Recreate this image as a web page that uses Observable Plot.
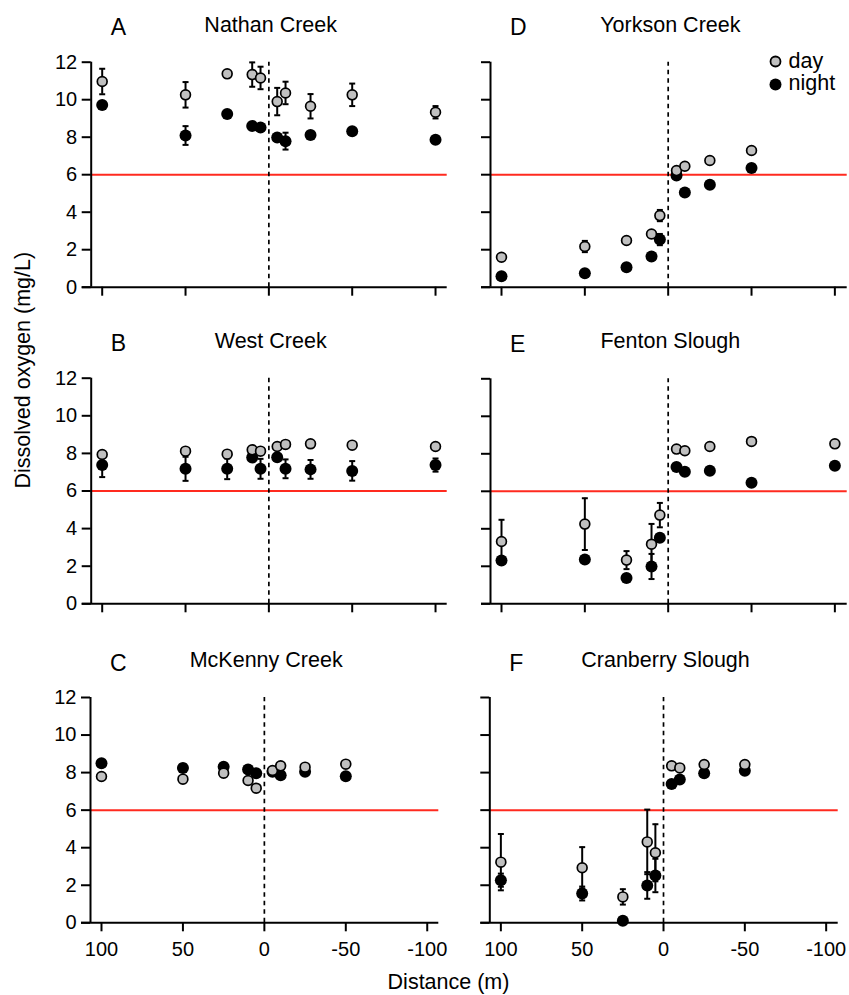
<!DOCTYPE html>
<html>
<head>
<meta charset="utf-8">
<script src="https://cdn.jsdelivr.net/npm/d3@7"></script>
<script src="https://cdn.jsdelivr.net/npm/@observablehq/plot@0.6"></script>
<style>
  html, body { margin: 0; padding: 0; background: #fff; }
  #wrap { position: relative; width: 849px; height: 995px; overflow: hidden; }
  .panel { position: absolute; }
  .panel svg { overflow: visible; }
</style>
</head>
<body>
<div id="wrap"></div>
<script>
// ---------- data ----------
const distances = [100, 50, 25, 10, 5, -5, -10, -25, -50, -100];
const xTicks = [100, 50, 0, -50, -100];
const yTicks = [0, 2, 4, 6, 8, 10, 12];
const seriesNames = ["day", "night"];
const threshold = 6;
const yLabel = "Dissolved oxygen (mg/L)";
const xLabel = "Distance (m)";

// A Nathan Creek
const nathanDay     = [10.97, 10.26, 11.38, 11.34, 11.16, 9.90, 10.36, 9.65, 10.26, 9.33];
const nathanDaySE   = [0.68, 0.68, 0.12, 0.65, 0.60, 0.73, 0.60, 0.65, 0.60, 0.33];
const nathanNight   = [9.72, 8.09, 9.24, 8.60, 8.52, 7.98, 7.79, 8.12, 8.32, 7.86];
const nathanNightSE = [0.12, 0.50, 0.12, 0.12, 0.12, 0.15, 0.45, 0.12, 0.12, 0.12];
// B West Creek
const westDay     = [7.94, 8.12, 7.96, 8.19, 8.12, 8.37, 8.48, 8.51, 8.44, 8.37];
const westDaySE   = [0.12, 0.12, 0.12, 0.12, 0.12, 0.12, 0.12, 0.12, 0.12, 0.12];
const westNight   = [7.38, 7.18, 7.18, 7.78, 7.18, 7.80, 7.18, 7.15, 7.07, 7.38];
const westNightSE = [0.64, 0.64, 0.55, 0.12, 0.53, 0.12, 0.50, 0.50, 0.52, 0.35];
// C McKenny Creek
const mckennyDay     = [7.79, 7.65, 7.97, 7.58, 7.17, 8.11, 8.36, 8.29, 8.45, null];
const mckennyDaySE   = [0.1, 0.1, 0.1, 0.1, 0.1, 0.1, 0.1, 0.1, 0.1, null];
const mckennyNight   = [8.50, 8.25, 8.31, 8.17, 7.97, 8.05, 7.86, 8.04, 7.81, null];
const mckennyNightSE = [0.1, 0.1, 0.1, 0.1, 0.1, 0.1, 0.1, 0.1, 0.1, null];
// D Yorkson Creek
const yorksonDay     = [1.60, 2.17, 2.49, 2.84, 3.82, 6.22, 6.45, 6.76, 7.29, null];
const yorksonDaySE   = [0.12, 0.30, 0.12, 0.12, 0.30, 0.12, 0.12, 0.12, 0.12, null];
const yorksonNight   = [0.59, 0.75, 1.07, 1.64, 2.54, 5.96, 5.05, 5.46, 6.36, null];
const yorksonNightSE = [0.12, 0.12, 0.12, 0.12, 0.30, 0.12, 0.12, 0.12, 0.12, null];
// E Fenton Slough
const fentonDay     = [3.32, 4.25, 2.33, 3.18, 4.73, 8.25, 8.16, 8.39, 8.66, 8.53];
const fentonDaySE   = [1.16, 1.38, 0.48, 1.08, 0.65, 0.12, 0.12, 0.12, 0.12, 0.12];
const fentonNight   = [2.31, 2.36, 1.37, 1.99, 3.52, 7.29, 7.04, 7.09, 6.45, 7.36];
const fentonNightSE = [0.12, 0.12, 0.12, 0.67, 0.12, 0.12, 0.12, 0.12, 0.12, 0.12];
// F Cranberry Slough
const cranberryDay     = [3.23, 2.93, 1.38, 4.31, 3.73, 8.36, 8.25, 8.43, 8.43, null];
const cranberryDaySE   = [1.50, 1.10, 0.41, 1.72, 1.52, 0.12, 0.12, 0.12, 0.12, null];
const cranberryNight   = [2.27, 1.56, 0.11, 1.99, 2.52, 7.39, 7.63, 7.97, 8.10, null];
const cranberryNightSE = [0.35, 0.37, 0.10, 0.71, 0.89, 0.12, 0.12, 0.12, 0.12, null];

// ---------- layout ----------
const panels = [
  {letter: "A", name: "Nathan Creek", day: nathanDay, daySE: nathanDaySE, night: nathanNight, nightSE: nathanNightSE,
   left: 0, top: 0, w: 460, h: 310, xL: 90.7, xR: 446.7, xDom: [106.6, -107.0], yT: 61.7, yB: 286.7, yLab: true, xLab: false},
  {letter: "B", name: "West Creek", day: westDay, daySE: westDaySE, night: westNight, nightSE: westNightSE,
   left: 0, top: 310, w: 460, h: 320, xL: 90.7, xR: 446.7, xDom: [106.6, -107.0], yT: 67.7, yB: 293.3, yLab: true, xLab: false, yTitle: true},
  {letter: "C", name: "McKenny Creek", day: mckennyDay, daySE: mckennyDaySE, night: mckennyNight, nightSE: mckennyNightSE,
   left: 0, top: 630, w: 460, h: 365, xL: 90, xR: 438.3, xDom: [106.75, -107.1], yT: 67, yB: 292.3, yLab: true, xLab: true, xTitle: true},
  {letter: "D", name: "Yorkson Creek", day: yorksonDay, daySE: yorksonDaySE, night: yorksonNight, nightSE: yorksonNightSE,
   left: 460, top: 0, w: 389, h: 310, xL: 30, xR: 386.7, xDom: [106.6, -107.4], yT: 61.7, yB: 286.7, yLab: false, xLab: false, legend: true},
  {letter: "E", name: "Fenton Slough", day: fentonDay, daySE: fentonDaySE, night: fentonNight, nightSE: fentonNightSE,
   left: 460, top: 310, w: 389, h: 320, xL: 30, xR: 386.7, xDom: [106.6, -107.4], yT: 68.3, yB: 293.3, yLab: false, xLab: false},
  {letter: "F", name: "Cranberry Slough", day: cranberryDay, daySE: cranberryDaySE, night: cranberryNight, nightSE: cranberryNightSE,
   left: 460, top: 630, w: 389, h: 365, xL: 29.3, xR: 377.7, xDom: [106.8, -107.4], yT: 67, yB: 292.3, yLab: false, xLab: true}
];

const FONT = "'Liberation Sans', Arial, Helvetica, sans-serif";
const DAY_FILL = "#c0c0c0";
const RED = "#ff2a1f";

function makePanel(p) {
  const rows = distances.map((d, i) => ({
    d, day: p.day[i], dse: p.daySE[i], night: p.night[i], nse: p.nightSE[i]
  })).filter(r => r.day != null);
  const ppm = (p.xR - p.xL) / (p.xDom[0] - p.xDom[1]);
  const cap = 3 / ppm;
  const tickLen = 9 / ppm;

  const errMarks = (key, se) => [
    Plot.ruleX(rows, {x: "d", y1: r => r[key] - r[se], y2: r => r[key] + r[se], stroke: "#000", strokeWidth: 2}),
    Plot.link(rows, {x1: r => r.d - cap, x2: r => r.d + cap, y1: r => r[key] + r[se], y2: r => r[key] + r[se], stroke: "#000", strokeWidth: 2}),
    Plot.link(rows, {x1: r => r.d - cap, x2: r => r.d + cap, y1: r => r[key] - r[se], y2: r => r[key] - r[se], stroke: "#000", strokeWidth: 2})
  ];

  const marks = [
    Plot.ruleY([threshold], {x1: p.xDom[0], x2: p.xDom[1], stroke: RED, strokeWidth: 2}),
    Plot.ruleX([0], {y1: 0, y2: 12, stroke: "#000", strokeWidth: 1.7, strokeDasharray: "4.5,4"}),
    Plot.ruleX([p.xDom[0]], {y1: 0, y2: 12, stroke: "#000", strokeWidth: 2}),
    Plot.ruleY([0], {x1: p.xDom[0] + tickLen, x2: p.xDom[1], stroke: "#000", strokeWidth: 2}),
    Plot.axisY({ticks: yTicks, tickSize: 9, tickPadding: 5, strokeWidth: 2, fontSize: 20, label: null,
      tickFormat: p.yLab ? (d => String(d)) : (() => "")}),
    Plot.axisX({ticks: xTicks, tickSize: 9, tickPadding: 10, strokeWidth: 2, fontSize: 20, label: null,
      tickFormat: p.xLab ? (d => String(d)) : (() => "")}),
    ...errMarks("night", "nse"),
    Plot.dot(rows, {x: "d", y: "night", r: 6, fill: "#000", stroke: "none"}),
    ...errMarks("day", "dse"),
    Plot.dot(rows, {x: "d", y: "day", r: 4.9, fill: DAY_FILL, stroke: "#000", strokeWidth: 1.7}),
    Plot.text([p.name], {text: d => d, frameAnchor: "top", dx: 1.5, dy: -30.5, lineAnchor: "bottom", fontSize: 21.5}),
    Plot.text([p.letter], {text: d => d, frameAnchor: "top-left", dx: 19.5, dy: -27, textAnchor: "start", lineAnchor: "bottom", fontSize: 23})
  ];

  if (p.yTitle) {
    marks.push(Plot.text([yLabel], {text: d => d, frameAnchor: "left", dx: -67.7, dy: -2.5, rotate: -90, fontSize: 21.5}));
  }
  if (p.xTitle) {
    const cx = (p.xL + p.xR) / 2;
    marks.push(Plot.text([xLabel], {text: d => d, frameAnchor: "bottom", dx: 448 - cx, dy: 66, lineAnchor: "bottom", fontSize: 21.5}));
  }
  if (p.legend) {
    marks.push(
      Plot.dot([seriesNames[0]], {frameAnchor: "top-left", dx: 285, dy: -0.7, r: 5, fill: DAY_FILL, stroke: "#000", strokeWidth: 1.8}),
      Plot.dot([seriesNames[1]], {frameAnchor: "top-left", dx: 285, dy: 22.3, r: 6, fill: "#000"}),
      Plot.text([seriesNames[0]], {text: d => d, frameAnchor: "top-left", dx: 298, dy: 5.3, textAnchor: "start", lineAnchor: "bottom", fontSize: 21.5}),
      Plot.text([seriesNames[1]], {text: d => d, frameAnchor: "top-left", dx: 298, dy: 27.5, textAnchor: "start", lineAnchor: "bottom", fontSize: 21.5})
    );
  }

  return Plot.plot({
    width: p.w,
    height: p.h,
    marginLeft: p.xL,
    marginRight: p.w - p.xR,
    marginTop: p.yT,
    marginBottom: p.h - p.yB,
    x: {domain: p.xDom, range: [p.xL, p.xR]},
    y: {domain: [0, 12], range: [p.yB, p.yT]},
    style: {fontFamily: FONT, background: "transparent", overflow: "visible", color: "#000"},
    marks
  });
}

const wrap = document.getElementById("wrap");
for (const p of panels) {
  const div = document.createElement("div");
  div.className = "panel";
  div.style.left = p.left + "px";
  div.style.top = p.top + "px";
  div.style.width = p.w + "px";
  div.style.height = p.h + "px";
  div.appendChild(makePanel(p));
  wrap.appendChild(div);
}
</script>
</body>
</html>
